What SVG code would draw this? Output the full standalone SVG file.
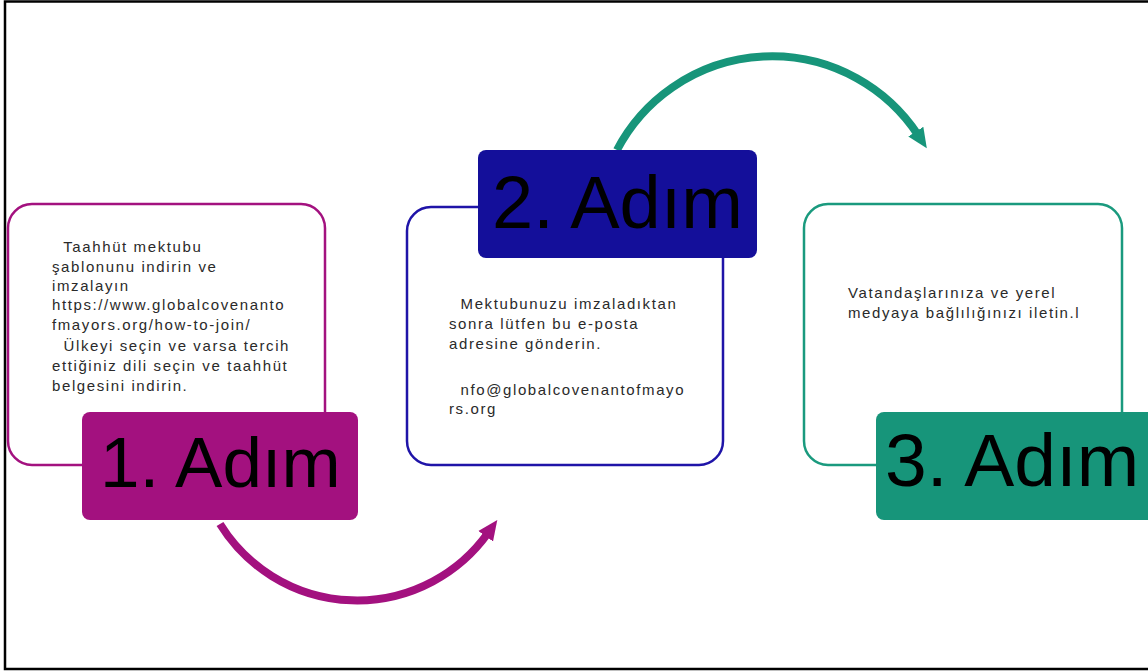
<svg xmlns="http://www.w3.org/2000/svg" width="1148" height="672" viewBox="0 0 1148 672">
  <style>
    .box { fill: #ffffff; stroke-width: 2.5; }
    .label-text { font-family: "Liberation Sans", Arial, sans-serif; fill: #000000; }
    .body { font-family: "Liberation Sans", Arial, sans-serif; font-size: 15px; letter-spacing: 1.6px; fill: #2a2a2a; }
    .conn { fill: none; stroke-width: 8; }
  </style>
  <defs>
    <marker id="ahM" markerUnits="userSpaceOnUse" markerWidth="24" markerHeight="24" viewBox="0 0 24 24" refX="4" refY="12" orient="auto">
      <path d="M0 3 L20 12 L0 21 Z" fill="#a3117f"/>
    </marker>
    <marker id="ahT" markerUnits="userSpaceOnUse" markerWidth="24" markerHeight="24" viewBox="0 0 24 24" refX="4" refY="12" orient="auto">
      <path d="M0 3 L20 12 L0 21 Z" fill="#17957a"/>
    </marker>
  </defs>
  <rect x="0" y="0" width="1148" height="672" fill="#ffffff"/>
  <path d="M1160 1.5 H5 V669 H1160" fill="none" stroke="#000000" stroke-width="2.5"/>

  <g id="connectors">
    <path class="conn" stroke="#a3117f" d="M220 524 A161 161 0 0 0 488 533" marker-end="url(#ahM)"/>
    <path class="conn" stroke="#17957a" stroke-width="7" d="M617 150 A175 175 0 0 1 918 135" marker-end="url(#ahT)"/>
  </g>

  <g id="step1">
    <rect class="box" x="8" y="204" width="317" height="261" rx="24" stroke="#a3117f"/>
    <text class="body">
      <tspan x="52" y="252" xml:space="preserve">  Taahhüt mektubu</tspan>
      <tspan x="52" y="272">şablonunu indirin ve</tspan>
      <tspan x="52" y="291">imzalayın</tspan>
      <tspan x="52" y="310">https://www.globalcovenanto</tspan>
      <tspan x="52" y="330">fmayors.org/how-to-join/</tspan>
      <tspan x="52" y="351" xml:space="preserve">  Ülkeyi seçin ve varsa tercih</tspan>
      <tspan x="52" y="371">ettiğiniz dili seçin ve taahhüt</tspan>
      <tspan x="52" y="391">belgesini indirin.</tspan>
    </text>
    <rect x="82" y="412" width="276" height="108" rx="8" fill="#a3117f"/>
    <text class="label-text" x="100" y="487" font-size="71">1. Adım</text>
  </g>

  <g id="step2">
    <rect class="box" x="407" y="207" width="316" height="258" rx="24" stroke="#1f14a8"/>
    <rect x="478" y="150" width="279" height="108" rx="8" fill="#140f9a"/>
    <text class="label-text" x="492" y="228" font-size="74">2. Adım</text>
    <text class="body">
      <tspan x="449" y="309" xml:space="preserve">  Mektubunuzu imzaladıktan</tspan>
      <tspan x="449" y="329">sonra lütfen bu e-posta</tspan>
      <tspan x="449" y="349">adresine gönderin.</tspan>
      <tspan x="449" y="395" xml:space="preserve">  nfo@globalcovenantofmayo</tspan>
      <tspan x="449" y="414">rs.org</tspan>
    </text>
  </g>

  <g id="step3">
    <rect class="box" x="804" y="204" width="318" height="261" rx="24" stroke="#1a9a7e"/>
    <text class="body">
      <tspan x="848" y="298">Vatandaşlarınıza ve yerel</tspan>
      <tspan x="848" y="318">medyaya bağlılığınızı iletin.l</tspan>
    </text>
    <rect x="876" y="412" width="290" height="108" rx="8" fill="#17957a"/>
    <text class="label-text" x="885" y="486" font-size="75">3. Adım</text>
  </g>
</svg>
